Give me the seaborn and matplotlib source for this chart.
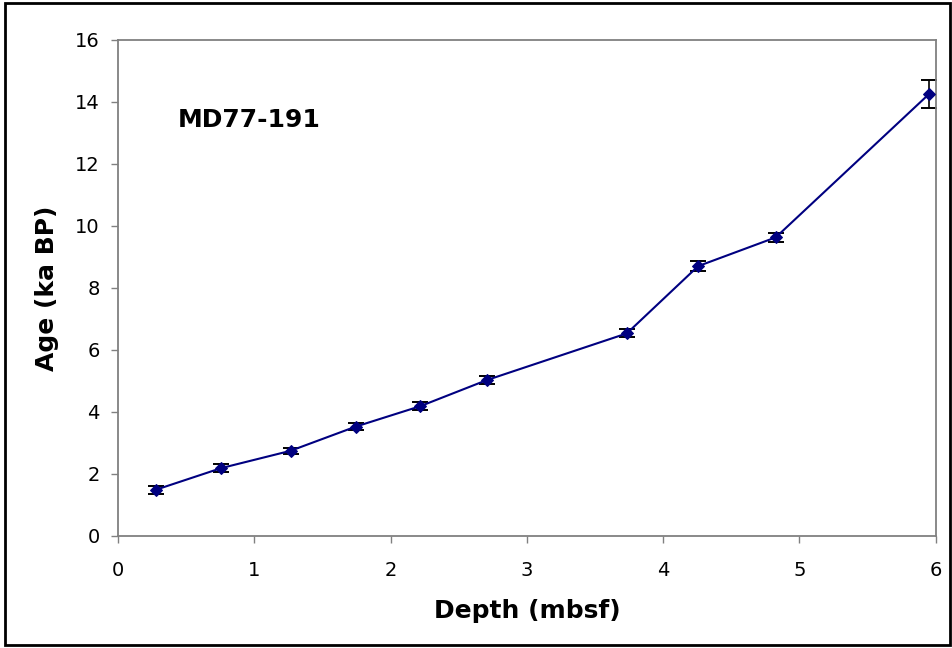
import matplotlib
matplotlib.use("Agg")
import matplotlib.pyplot as plt
import seaborn as sns
import pandas as pd
from matplotlib.patches import Rectangle

depth = [0.276, 0.756, 1.266, 1.744, 2.218, 2.705, 3.734, 4.257, 4.827, 5.95]
age = [1.48, 2.18, 2.74, 3.52, 4.18, 5.02, 6.53, 8.70, 9.63, 14.25]
age_err = [0.12, 0.13, 0.10, 0.12, 0.13, 0.13, 0.13, 0.17, 0.14, 0.46]
core_label = "MD77-191"
x_ticks = [0, 1, 2, 3, 4, 5, 6]
y_ticks = [0, 2, 4, 6, 8, 10, 12, 14, 16]

sns.set_theme(style="white")
plt.rcParams['font.family'] = ['DejaVu Sans']
plt.rcParams['text.color'] = 'black'
plt.rcParams['axes.labelcolor'] = 'black'

df = pd.DataFrame({"Depth": depth, "Age": age, "Err": age_err})

fig = plt.figure(figsize=(9.53, 6.48), dpi=100)
ax = fig.add_axes([0.1238, 0.1733, 0.858, 0.765])

ax.errorbar(df["Depth"], df["Age"], yerr=df["Err"], fmt="none", ecolor="black",
            elinewidth=1.2, capsize=6, capthick=1.4, zorder=2)
sns.lineplot(data=df, x="Depth", y="Age", ax=ax, color="#000080", linewidth=1.5,
             marker="D", markersize=6.5, markeredgecolor="#000080",
             markerfacecolor="#000080", zorder=3, sort=False)

ax.set_xlim(0, 6)
ax.set_ylim(0, 16)
ax.set_xticks(x_ticks)
ax.set_yticks(y_ticks)
ax.tick_params(axis="both", direction="out", length=5, width=1, color="#808080",
               labelsize=14, labelcolor="black", bottom=True, left=True)
ax.tick_params(axis="x", pad=13)
ax.tick_params(axis="y", pad=8)
for s in ax.spines.values():
    s.set_color("#808080")
    s.set_linewidth(1.3)

ax.set_xlabel("Depth (mbsf)", fontsize=18, fontweight="bold", labelpad=14, color="black")
ax.set_ylabel("Age (ka BP)", fontsize=18, fontweight="bold", labelpad=12, color="black")

ax.text(0.073, 0.839, core_label, transform=ax.transAxes, fontsize=18,
        fontweight="bold", ha="left", va="center", color="black")

fig.patches.append(Rectangle((0.005, 0.004), 0.992, 0.991, transform=fig.transFigure,
                             fill=False, edgecolor="black", linewidth=2))

fig.savefig("out.png", dpi=100)
